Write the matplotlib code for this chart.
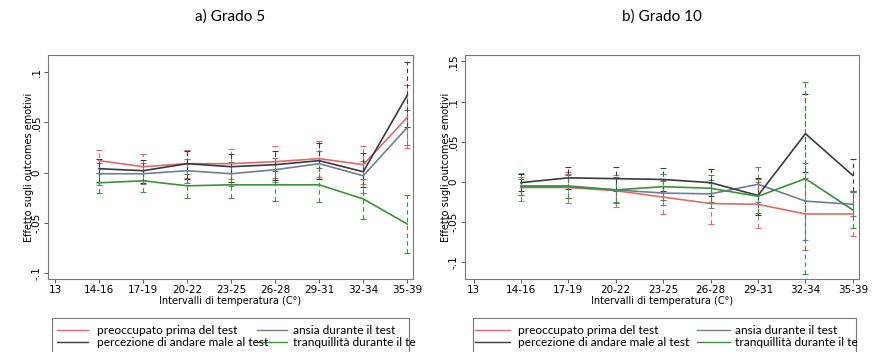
import matplotlib
matplotlib.use("Agg")
import matplotlib.pyplot as plt
from matplotlib.lines import Line2D
from matplotlib.patches import Rectangle

categories = ["13", "14-16", "17-19", "20-22", "23-25", "26-28", "29-31", "32-34", "35-39"]
series_names = ["preoccupato prima del test", "ansia durante il test",
                "percezione di andare male al test", "tranquillità durante il test"]
legend_labels_shown = ["preoccupato prima del test", "ansia durante il test",
                       "percezione di andare male al test", "tranquillità durante il te"]
colors = ["#e06a6a", "#6f7d99", "#3a3a3a", "#3a923a"]

# ---- Grado 5 ----
g5_red = [0.012, 0.006, 0.009, 0.009, 0.011, 0.014, 0.008, 0.055]
g5_red_hi = [0.023, 0.019, 0.023, 0.024, 0.027, 0.032, 0.027, 0.087]
g5_red_lo = [0.000, -0.007, -0.005, -0.006, -0.005, -0.004, -0.011, 0.025]
g5_blue = [-0.001, -0.001, 0.002, -0.001, 0.003, 0.009, -0.003, 0.045]
g5_blue_hi = [0.010, 0.010, 0.014, 0.011, 0.015, 0.022, 0.012, 0.062]
g5_blue_lo = [-0.012, -0.011, -0.010, -0.013, -0.009, -0.006, -0.020, 0.028]
g5_black = [0.004, 0.002, 0.009, 0.006, 0.008, 0.012, 0.001, 0.077]
g5_black_hi = [0.014, 0.013, 0.022, 0.019, 0.022, 0.030, 0.020, 0.110]
g5_black_lo = [-0.009, -0.010, -0.006, -0.009, -0.007, -0.006, -0.014, 0.045]
g5_green = [-0.010, -0.008, -0.013, -0.012, -0.012, -0.012, -0.026, -0.051]
g5_green_hi = [0.000, 0.003, -0.001, 0.000, 0.002, 0.005, -0.006, -0.022]
g5_green_lo = [-0.020, -0.019, -0.025, -0.025, -0.028, -0.029, -0.046, -0.080]

# ---- Grado 10 ----
g10_red = [-0.007, -0.007, -0.011, -0.019, -0.027, -0.028, -0.040, -0.040]
g10_red_hi = [0.011, 0.012, 0.009, 0.002, -0.002, 0.000, 0.005, -0.013]
g10_red_lo = [-0.024, -0.026, -0.031, -0.040, -0.052, -0.057, -0.085, -0.067]
g10_blue = [-0.005, -0.005, -0.010, -0.014, -0.015, -0.003, -0.024, -0.028]
g10_blue_hi = [0.006, 0.010, 0.005, 0.001, 0.002, 0.019, 0.024, -0.013]
g10_blue_lo = [-0.016, -0.020, -0.025, -0.029, -0.032, -0.025, -0.072, -0.043]
g10_black = [-0.001, 0.005, 0.004, 0.003, -0.001, -0.017, 0.060, 0.008]
g10_black_hi = [0.010, 0.019, 0.019, 0.017, 0.016, 0.005, 0.109, 0.028]
g10_black_lo = [-0.012, -0.009, -0.011, -0.011, -0.018, -0.041, 0.012, -0.012]
g10_green = [-0.006, -0.006, -0.010, -0.006, -0.008, -0.018, 0.004, -0.035]
g10_green_hi = [0.004, 0.008, 0.006, 0.010, 0.009, 0.003, 0.124, -0.011]
g10_green_lo = [-0.016, -0.020, -0.026, -0.022, -0.025, -0.039, -0.115, -0.058]

g5_ticks = [-0.1, -0.05, 0, 0.05, 0.1]
g5_ticklabels = ["-.1", "-.05", "0", ".05", ".1"]
g10_ticks = [-0.1, -0.05, 0, 0.05, 0.1, 0.15]
g10_ticklabels = ["-.1", "-.05", "0", ".05", ".1", ".15"]

panels = [
    dict(title="a) Grado 5",
         data=[(g5_red, g5_red_lo, g5_red_hi), (g5_blue, g5_blue_lo, g5_blue_hi),
               (g5_black, g5_black_lo, g5_black_hi), (g5_green, g5_green_lo, g5_green_hi)],
         ticks=g5_ticks, ticklabels=g5_ticklabels, ylim=(-0.1056, 0.117), xlim=(-0.16, 8.13),
         rect=[48 / 874, 1 - 279 / 352, (413 - 48) / 874, 224 / 352]),
    dict(title="b) Grado 10",
         data=[(g10_red, g10_red_lo, g10_red_hi), (g10_blue, g10_blue_lo, g10_blue_hi),
               (g10_black, g10_black_lo, g10_black_hi), (g10_green, g10_green_lo, g10_green_hi)],
         ticks=g10_ticks, ticklabels=g10_ticklabels, ylim=(-0.121, 0.158), xlim=(-0.18, 8.13),
         rect=[465 / 874, 1 - 279 / 352, (859 - 465) / 874, 224 / 352]),
]

fig = plt.figure(figsize=(8.74, 3.52), dpi=100)
frame_col = "#555555"
x_pos = list(range(1, len(categories)))

for p in panels:
    ax = fig.add_axes(p["rect"])
    for (vals, lo, hi), c in zip(p["data"], colors):
        yerr = [[v - l for v, l in zip(vals, lo)], [h - v for v, h in zip(vals, hi)]]
        eb = ax.errorbar(x_pos, vals, yerr=yerr, fmt="none", ecolor=c, elinewidth=0.8,
                         capsize=2.5, capthick=0.8)
        eb[2][0].set_linestyle((0, (4, 3)))
    for (vals, lo, hi), c in zip(p["data"], colors):
        ax.plot(x_pos, vals, color=c, lw=1.2)
    ax.set_xlim(*p["xlim"])
    ax.set_ylim(*p["ylim"])
    ax.set_xticks(range(len(categories)))
    ax.set_xticklabels(categories, fontsize=7.5, family="DejaVu Sans")
    ax.set_yticks(p["ticks"])
    ax.set_yticklabels(p["ticklabels"], fontsize=7.5, rotation=90, va="center",
                       family="DejaVu Sans")
    ax.tick_params(axis="both", length=3, width=0.7, color=frame_col, pad=1.5)
    for s in ax.spines.values():
        s.set_color("#777777")
        s.set_linewidth(0.8)
    ax.set_xlabel("Intervalli di temperatura (C°)", fontsize=7, labelpad=0.5)
    ax.set_ylabel("Effetto sugli outcomes emotivi", fontsize=7, labelpad=-1.5)
    x0, y0, w, h = p["rect"]
    fig.text(x0 + w / 2, 1 - 17 / 352, p["title"], ha="center", va="center",
             fontsize=11, family="Lato")

# legends drawn as boxes
legend_specs = [
    dict(box=(52, 409), col1=(57, 88, 97), col2=(257, 287, 293)),
    dict(box=(473, 856), col1=(475, 510, 518), col2=(697, 730, 735)),
]
order = [(0, 0), (1, 1), (2, 0), (3, 1)]  # (series index, column)
rows_y = [330, 342]
for spec in legend_specs:
    bx0, bx1 = spec["box"]
    fig.add_artist(Rectangle((bx0 / 874, 1 - 360 / 352), (bx1 - bx0) / 874, (360 - 318) / 352,
                             transform=fig.transFigure, fill=False, edgecolor="#777777", lw=0.8))
    for k, (si, col) in enumerate(order):
        row = k // 2
        lx0, lx1, tx = spec["col1"] if col == 0 else spec["col2"]
        yy = 1 - rows_y[row] / 352
        fig.add_artist(Line2D([lx0 / 874, lx1 / 874], [yy, yy], transform=fig.transFigure,
                              color=colors[si], lw=1.0))
        fig.text(tx / 874, yy, legend_labels_shown[si], ha="left", va="center",
                 fontsize=8.6, family="Lato")

fig.savefig("out.png", dpi=100)
